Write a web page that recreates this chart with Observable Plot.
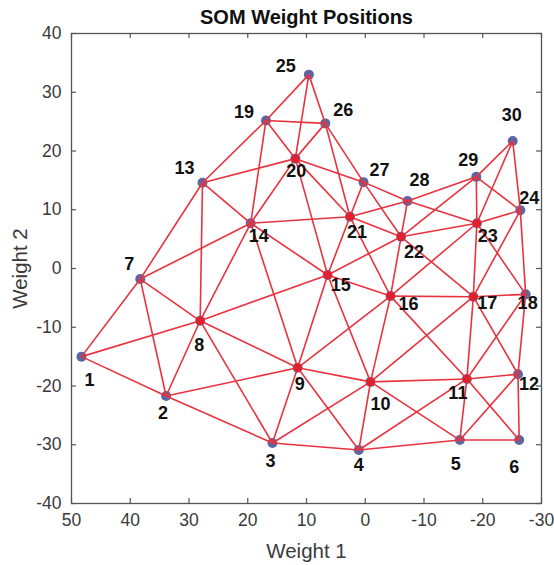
<!DOCTYPE html>
<html><head><meta charset="utf-8">
<script src="https://cdn.jsdelivr.net/npm/d3@7"></script>
<script src="https://cdn.jsdelivr.net/npm/@observablehq/plot@0.6"></script>
<style>body{margin:0;background:#fff} svg{display:block}</style>
</head><body><div id="chart"></div>
<script>
// Node ids and their weight positions
const nodeIds = [1,2,3,4,5,6,7,8,9,10,11,12,13,14,15,16,17,18,19,20,21,22,23,24,25,26,27,28,29,30];
const weight1 = [48.3,33.9,15.8,1.1,-16.1,-26.2, 38.3,28.1,11.5,-0.9,-17.3,-26.0, 27.7,19.5,6.4,-4.3,-18.4,-27.3, 16.9,11.9,2.6,-6.1,-19.0,-26.4, 9.6,6.8,0.3,-7.2,-18.9,-25.1];
const weight2 = [-15.0,-21.7,-29.7,-30.9,-29.2,-29.2, -1.8,-8.9,-16.9,-19.3,-18.8,-18.0, 14.6,7.7,-1.1,-4.7,-4.8,-4.4, 25.2,18.7,8.8,5.4,7.7,9.9, 33.0,24.7,14.7,11.5,15.6,21.7];

// Neighbour links
const edgeFrom = [1,1,1, 2,2,2,2, 3,3,3,3, 4,4,4,4, 5,5,5,5, 6,6, 7,7,7, 8,8,8,8, 9,9,9,9, 10,10,10,10, 11,11,11,11, 12,12,
  13,13,13, 14,14,14,14, 15,15,15,15, 16,16,16,16, 17,17,17,17, 18,18,
  19,19,19, 20,20,20,20, 21,21,21,21, 22,22,22,22, 23,23,23,23, 24,24, 25, 26, 27, 28, 29];
const edgeTo   = [2,7,8, 3,7,8,9, 4,8,9,10, 5,9,10,11, 6,10,11,12, 11,12, 8,13,14, 9,13,14,15, 10,14,15,16, 11,15,16,17, 12,16,17,18, 17,18,
  14,19,20, 15,19,20,21, 16,20,21,22, 17,21,22,23, 18,22,23,24, 23,24,
  20,25,26, 21,25,26,27, 22,26,27,28, 23,27,28,29, 24,28,29,30, 29,30, 26, 27, 28, 29, 30];

// Nodes whose marker appears red (covered by converging links)
const redNodes = [8,9,10,11,15,16,17,20,21,22,23];

const xTicks = [50,40,30,20,10,0,-10,-20,-30];
const yTicks = [-40,-30,-20,-10,0,10,20,30,40];

// Label offsets (px) relative to each node
const labelOffsets = [[8,24],[-3,17],[-2,18],[0,15],[-4,24],[-5,27],[-11,-15],[-1,24],[2,16],[10,22],[-9,14],[11,10],
  [-18,-14],[8,13],[13,10],[18,8],[14,7],[2,9],[-22,-8],[1,13],[7,15],[13,15],[11,13],[9,-12],
  [-23,-8],[18,-13],[16,-12],[12,-21],[-8,-17],[-1,-26]];

const nodes = nodeIds.map((id, i) => ({id, x: weight1[i], y: weight2[i]}));
const byId = new Map(nodes.map(n => [n.id, n]));
const edges = edgeFrom.map((a, i) => ({a: byId.get(a), b: byId.get(edgeTo[i])}));
const redSet = new Set(redNodes);

const W = 554, H = 565, mL = 71, mR = 13, mT = 33, mB = 62;
const frameW = W - mL - mR, frameH = H - mT - mB, tickLen = 5;

const axisColor = "#3a3a3a";
const fmt = d => String(d);
const labelMarks = nodes.map((n, i) => Plot.text([n], {
  x: "x", y: "y", text: d => String(d.id),
  dx: labelOffsets[i][0], dy: labelOffsets[i][1],
  fontSize: 18, fontWeight: "bold", fill: "#111",
  fontFamily: "Liberation Sans, Arial, sans-serif"
}));

const chart = Plot.plot({
  width: W, height: H,
  marginLeft: mL, marginRight: mR, marginTop: mT, marginBottom: mB,
  style: {fontFamily: "Liberation Sans, Arial, sans-serif", background: "#fff", color: axisColor},
  x: {domain: [50, -30], ticks: xTicks},
  y: {domain: [-40, 40], ticks: yTicks},
  marks: [
    Plot.frame({stroke: "#555", strokeWidth: 1.3}),
    // inward ticks on all four sides
    Plot.tickX(xTicks, {x: d => d, insetTop: frameH - tickLen, stroke: "#555", strokeWidth: 1.2}),
    Plot.tickX(xTicks, {x: d => d, insetBottom: frameH - tickLen, stroke: "#555", strokeWidth: 1.2}),
    Plot.tickY(yTicks, {y: d => d, insetRight: frameW - tickLen, stroke: "#555", strokeWidth: 1.2}),
    Plot.tickY(yTicks, {y: d => d, insetLeft: frameW - tickLen, stroke: "#555", strokeWidth: 1.2}),
    Plot.axisX(xTicks, {anchor: "bottom", tickSize: 0, tickPadding: 10, tickFormat: fmt, label: null, fontSize: 17.5, fill: axisColor}),
    Plot.axisY(yTicks, {anchor: "left", tickSize: 0, tickPadding: 10, tickFormat: fmt, label: null, fontSize: 17.5, fill: axisColor}),
    Plot.dot(nodes, {x: "x", y: "y", r: 5, fill: "#5b66a3", stroke: "none"}),
    Plot.link(edges, {x1: d => d.a.x, y1: d => d.a.y, x2: d => d.b.x, y2: d => d.b.y, stroke: "#e8333e", strokeWidth: 1.6}),
    Plot.dot(nodes.filter(n => redSet.has(n.id)), {x: "x", y: "y", r: 4, fill: "#e21f2b", stroke: "none"}),
    ...labelMarks,
    Plot.text(["SOM Weight Positions"], {frameAnchor: "top", lineAnchor: "middle", textAnchor: "middle", dy: -16, fontSize: 20, fontWeight: "bold", fill: "#111"}),
    Plot.text(["Weight 1"], {frameAnchor: "bottom", lineAnchor: "middle", textAnchor: "middle", dy: 48, fontSize: 20.5, fill: axisColor}),
    Plot.text(["Weight 2"], {frameAnchor: "left", lineAnchor: "middle", textAnchor: "middle", dx: -51, rotate: -90, fontSize: 20.5, fill: axisColor})
  ]
});
document.getElementById("chart").appendChild(chart);
</script>
</body></html>
